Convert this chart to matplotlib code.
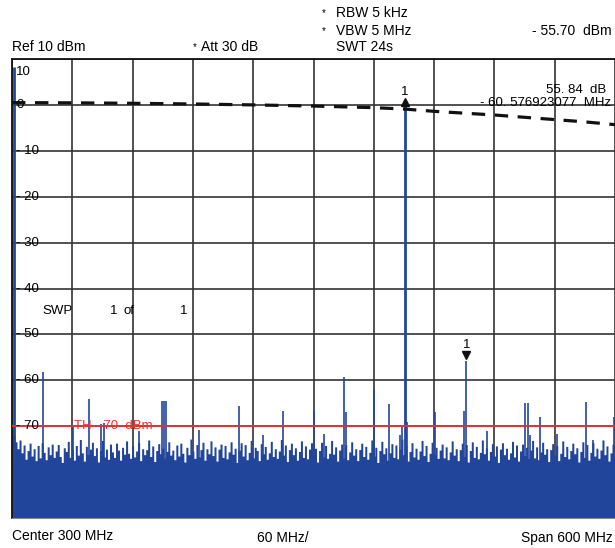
import numpy as np
import matplotlib
matplotlib.use('Agg')
import matplotlib.pyplot as plt

plt.rcParams['font.family'] = ['Liberation Sans', 'DejaVu Sans']

W, H = 615, 548
TRACE_BLUE = '#22459c'
TH_RED = '#e8352b'
GRID_GREY = '#333333'

# spectrum analyser sweep: 0..600 MHz, ref 10 dBm, 10 dB/div
freq_noise = np.arange(0, 601, 2)
noise_db = [
    -70.6, -72.0, -73.4, -74.9, -73.0, -75.8, -74.1, -77.2, -75.3, -73.7, -76.5, -74.9, -77.5, -74.2, -76.9, -73.6, -75.7, -77.3, -74.5, -76.2,
    -73.9, -76.8, -75.4, -74.0, -76.6, -77.9, -74.7, -75.5, -73.3, -76.8, -75.1, -77.4, -74.2, -76.3, -72.9, -75.8, -77.6, -74.4, -76.2, -75.0,
    -73.5, -76.4, -74.7, -77.8, -75.3, -73.1, -76.7, -75.0, -77.2, -73.9, -75.6, -76.8, -73.7, -75.2, -77.4, -74.6, -76.1, -73.2, -75.9, -77.0,
    -74.3, -76.7, -75.4, -73.6, -77.5, -74.9, -76.2, -75.1, -73.0, -76.6, -74.3, -77.7, -75.3, -73.8, -76.0, -74.8, -76.9, -75.5, -73.4, -76.3,
    -75.2, -77.3, -74.1, -76.5, -73.7, -75.9, -77.8, -74.6, -76.2, -72.8, -75.4, -77.0, -74.0, -76.7, -75.1, -73.5, -77.4, -74.9, -76.0, -73.2,
    -76.4, -74.5, -77.6, -75.0, -73.9, -76.8, -74.2, -77.1, -75.6, -73.4, -76.1, -74.8, -77.9, -75.2, -73.6, -76.5, -74.0, -77.3, -75.7, -73.1,
    -76.9, -74.6, -75.3, -77.5, -73.8, -76.0, -74.4, -77.2, -75.8, -73.3, -76.6, -74.9, -77.0, -75.4, -72.9, -76.3, -74.1, -77.7, -75.1, -73.7,
    -76.2, -74.7, -77.4, -75.5, -73.2, -76.8, -74.3, -77.1, -75.0, -73.6, -76.4, -74.8, -77.8, -75.3, -73.5, -76.7, -74.2, -77.0, -75.9, -73.1,
    -76.1, -74.5, -77.6, -75.2, -73.9, -76.9, -74.0, -77.3, -75.6, -73.4, -76.3, -74.9, -77.5, -75.1, -73.7, -76.6, -74.4, -77.2, -75.7, -73.0,
    -76.5, -74.6, -77.9, -75.3, -73.3, -76.0, -74.7, -77.4, -75.8, -73.8, -76.8, -74.1, -77.1, -75.0, -72.8, -76.2, -74.3, -77.6, -75.5, -73.6,
    -76.7, -74.8, -77.2, -75.4, -73.1, -76.4, -74.2, -77.7, -75.9, -73.5, -76.1, -74.6, -77.0, -75.2, -73.9, -76.9, -74.5, -77.3, -75.6, -73.2,
    -76.3, -74.9, -77.5, -75.1, -73.7, -76.6, -74.0, -77.8, -75.3, -73.4, -76.8, -74.4, -77.1, -75.7, -73.0, -76.0, -74.7, -77.4, -75.5, -73.8,
    -76.5, -74.3, -77.9, -75.0, -73.6, -76.2, -74.8, -77.2, -75.8, -73.3, -76.7, -74.1, -77.6, -75.4, -73.9, -76.4, -74.6, -77.0, -75.2, -73.1,
    -76.9, -74.5, -77.3, -75.6, -73.5, -76.1, -74.9, -77.7, -75.1, -73.8, -76.3, -74.2, -77.5, -75.9, -73.2, -76.6, -74.4, -77.1, -75.3, -73.7,
    -76.0, -74.7, -77.8, -75.5, -73.4, -76.8, -74.0, -77.4, -75.7, -73.6, -76.5, -74.8, -77.0, -75.2, -73.0, -76.2, -74.3, -77.6, -75.8, -73.9,
    -74.5,
]

# discrete spurs / carriers above the floor
spur_freq = [1.5, 31, 61, 77, 89, 92, 126, 149, 151, 153, 186, 226, 250, 270, 300, 310,
             330, 332, 360, 375, 386, 388, 391, 393, 421, 450, 452, 473, 510, 513, 515,
             525, 542, 571, 578, 599]
spur_db = [8.3, -58.2, -70.0, -64.0, -69.5, -69.3, -71.0, -64.5, -64.5, -64.5, -70.8, -65.6,
           -72.0, -66.7, -66.7, -71.7, -59.3, -67.0, -62.1, -65.2, -72.0, -69.8, 0.14, -69.0,
           -67.0, -66.7, -55.70, -71.0, -65.0, -65.0, -72.0, -68.0, -71.7, -64.8, -73.0, -68.0]

# dashed limit line
limit_freq = [0, 60, 120, 180, 240, 300, 360, 390, 420, 450, 480, 510, 540, 570, 600]
limit_db = [0.5, 0.45, 0.35, 0.2, 0.0, -0.25, -0.6, -0.9, -1.4, -1.8, -2.2, -2.7, -3.2, -3.7, -4.3]

marker_freq = [391, 452]
marker_db = [0.14, -55.70]
threshold_db = -70
y_levels = [10, 0, -10, -20, -30, -40, -50, -60, -70]


def level_label(v):
    return str(v) if v >= 0 else '- %d' % -v


fig = plt.figure(figsize=(W / 100, H / 100), dpi=100)
ax = fig.add_axes([12 / W, 30 / H, 603 / W, 459 / H])
ax.set_xlim(0, 600)
ax.set_ylim(-90, 10)
ax.set_xticks(np.arange(0, 601, 60))
ax.set_yticks(np.arange(-90, 11, 10))
ax.tick_params(length=0, labelbottom=False, labelleft=False)
ax.grid(True, color=GRID_GREY, lw=1.2, zorder=1)
ax.set_axisbelow(True)
for side in ['top', 'left']:
    ax.spines[side].set_color('#111111')
    ax.spines[side].set_linewidth(1.3)
ax.spines['right'].set_visible(False)
ax.spines['bottom'].set_color('#888888')

ax.fill_between(freq_noise, -90, noise_db, step='mid', color=TRACE_BLUE, lw=0, zorder=2)
widths = [2.0 if d > -10 else 1.2 for d in spur_db]
ax.vlines(spur_freq, -90, spur_db, color=TRACE_BLUE, lw=widths, zorder=2)

ax.axhline(threshold_db, color=TH_RED, lw=1.3, zorder=3)
ax.text(62, threshold_db, 'TH  -70  dBm', color=TH_RED, fontsize=9.5, va='center', zorder=4)

ax.plot(limit_freq, limit_db, color='#111111', lw=2.3, dashes=(4.2, 3.0), zorder=5)

# marker 1 and delta marker
ax.plot(marker_freq[0], marker_db[0] + 0.6, marker='^', color='#111111', ms=6, zorder=6)
ax.text(marker_freq[0], marker_db[0] + 2.7, '1', fontsize=9.5, ha='center', va='center', zorder=6)
ax.plot(marker_freq[1], marker_db[1] + 1.3, marker='v', color='#111111', ms=6, zorder=6)
ax.text(marker_freq[1], marker_db[1] + 3.4, '1', fontsize=9.5, ha='center', va='center', zorder=6)

for v in y_levels:
    y = v - 2.8 if v == 10 else v
    ax.text(4, y, level_label(v), fontsize=9.5, va='center', ha='left', zorder=4)


def ftext(x, y, s, **kw):
    kw.setdefault('fontsize', 10)
    kw.setdefault('va', 'center')
    fig.text(x / W, 1 - y / H, s, **kw)


ftext(12, 47, 'Ref 10 dBm')
ftext(195, 47, '*', fontsize=7, ha='center')
ftext(201, 47, 'Att 30 dB')
ftext(324, 13, '*', fontsize=7, ha='center')
ftext(336, 13, 'RBW 5 kHz')
ftext(324, 31, '*', fontsize=7, ha='center')
ftext(336, 31, 'VBW 5 MHz')
ftext(336, 47, 'SWT 24s')
ftext(612, 31, '- 55.70  dBm', ha='right')
ftext(606, 90, '55. 84  dB', ha='right', fontsize=9.5)
ftext(611, 103, '- 60. 576923077  MHz', ha='right', fontsize=9.5)

ftext(42, 311, 'SWP', fontsize=9.5)
ftext(110, 311, '1', fontsize=9.5)
ftext(124, 311, 'of', fontsize=9.5)
ftext(180, 311, '1', fontsize=9.5)

ftext(12, 536, 'Center 300 MHz')
ftext(257, 538, '60 MHz/')
ftext(613, 538, 'Span 600 MHz', ha='right')

fig.savefig('out.png', dpi=100, facecolor='white')
